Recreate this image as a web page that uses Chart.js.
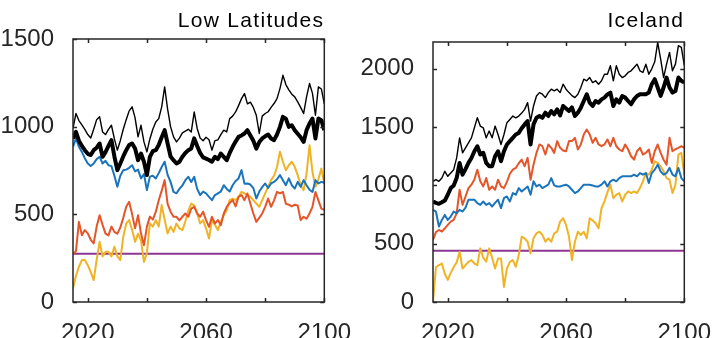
<!DOCTYPE html>
<html>
<head>
<meta charset="utf-8">
<script src="https://cdn.jsdelivr.net/npm/chart.js@4.4.0/dist/chart.umd.min.js"></script>
<style>
  html, body { margin: 0; padding: 0; background: #fff; }
  #wrap { position: relative; width: 720px; height: 338px; }
  canvas { position: absolute; top: 0; }
</style>
</head>
<body>
<div id="wrap">
  <canvas id="low" width="360" height="338" style="left:0"></canvas>
  <canvas id="ice" width="360" height="338" style="left:360px"></canvas>
</div>
<script>
// Years 2015..2100, one value per year
const years = Array.from({ length: 86 }, (_, i) => 2015 + i);
const xTicks = [2020, 2040, 2060, 2080, 2100];
const xLabels = [2020, 2060, 2100];

// Low Latitudes
const lowTicks = [0, 500, 1000, 1500];
const lowThreshold = 275;
const lowThick = [
  933, 970, 920, 890, 866, 845, 838, 866, 880, 904,
  828, 855, 890, 923, 830, 752, 790, 830, 866, 895,
  904, 875, 809, 847, 800, 724, 828, 860, 866, 895,
  940, 980, 904, 830, 809, 790, 800, 828, 850, 866,
  876, 933, 890, 850, 825, 818, 810, 800, 828, 815,
  847, 828, 809, 850, 885, 915, 942, 950, 961, 980,
  950, 920, 875, 912, 933, 945, 955, 933, 923, 955,
  999, 1056, 1046, 999, 1008, 980, 960, 940, 913, 980,
  1018, 1046, 933, 1046, 1037, 980
];
const lowThin = [
  990, 1075, 1035, 1010, 985, 955, 935, 985, 1040, 1056,
  970, 955, 985, 1008, 930, 866, 920, 985, 1040, 1090,
  1113, 1050, 942, 1008, 913, 856, 930, 985, 1027, 1046,
  1113, 1227, 1100, 1000, 942, 913, 935, 965, 975, 985,
  970, 1084, 990, 935, 920, 940, 925, 866, 920, 925,
  955, 980, 970, 1046, 1060, 1084, 1120, 1160, 1189, 1130,
  1140, 1110, 1065, 961, 1060, 1075, 1085, 1110, 1132, 1160,
  1217, 1293, 1240, 1210, 1185, 1170, 1141, 1110, 1075, 1170,
  1246, 1190, 1065, 1227, 1215, 1130
];
const lowBlue = [
  885, 933, 885, 856, 820, 790, 775, 790, 815, 828,
  790, 805, 780, 775, 720, 657, 720, 752, 755, 765,
  780, 745, 755, 705, 730, 638, 715, 720, 705, 735,
  770, 800, 725, 685, 628, 620, 645, 665, 695, 714,
  685, 714, 645, 610, 630, 620, 600, 581, 610, 620,
  630, 666, 645, 630, 666, 690, 705, 752, 675, 676,
  670, 650, 590, 630, 655, 676, 650, 676, 685, 700,
  724, 695, 666, 705, 666, 647, 685, 657, 695, 666,
  640, 628, 695, 676, 685, 680
];
const lowOrange = [
  270, 290, 457, 381, 410, 391, 355, 334, 430, 495,
  440, 390, 380, 430, 400, 390, 425, 480, 543, 571,
  500, 420, 495, 390, 324, 430, 487, 470, 514, 580,
  635, 695, 560, 515, 486, 486, 465, 486, 505, 486,
  533, 543, 505, 486, 515, 467, 429, 486, 448, 467,
  438, 505, 543, 565, 581, 545, 600, 610, 581, 619,
  560, 505, 457, 480, 505, 543, 590, 543, 580, 628,
  620, 628, 560, 555, 545, 555, 550, 467, 486, 475,
  505, 543, 628, 580, 533, 525
];
const lowYellow = [
  77, 150, 201, 239, 239, 210, 170, 125, 240, 343,
  260, 286, 286, 260, 315, 260, 239, 372, 448, 467,
  410, 343, 390, 350, 229, 280, 448, 430, 467, 430,
  553, 470, 391, 430, 400, 448, 420, 410, 460, 520,
  562, 550, 505, 448, 467, 420, 362, 467, 440, 410,
  457, 495, 524, 581, 590, 581, 600, 628, 619, 610,
  600, 581, 562, 543, 581, 619, 657, 695, 720, 770,
  857, 800, 752, 780, 800, 771, 724, 666, 638, 733,
  894, 740, 657, 700, 761, 676
];

// Iceland
const iceTicks = [0, 500, 1000, 1500, 2000];
const iceThreshold = 440;
const iceThick = [
  862, 850, 842, 855, 870, 920, 977, 1000, 1063, 1193,
  1092, 1140, 1193, 1235, 1293, 1336, 1265, 1280, 1193, 1164,
  1164, 1250, 1293, 1207, 1293, 1351, 1380, 1408, 1437, 1450,
  1490, 1523, 1552, 1351, 1523, 1580, 1595, 1580, 1624, 1595,
  1638, 1610, 1652, 1600, 1681, 1660, 1638, 1670, 1595, 1624,
  1667, 1724, 1782, 1710, 1681, 1724, 1710, 1738, 1753, 1780,
  1796, 1681, 1738, 1710, 1767, 1753, 1724, 1696, 1738, 1767,
  1782, 1782, 1782, 1796, 1868, 1911, 1840, 1768, 1840, 1925,
  1840, 1796, 1810, 1925, 1897, 1882
];
const iceThin = [
  1035, 1050, 1035, 1064, 1121, 1078, 1107, 1135, 1236, 1408,
  1279, 1322, 1365, 1408, 1494, 1581, 1509, 1494, 1408, 1466,
  1408, 1509, 1437, 1351, 1437, 1538, 1566, 1595, 1580, 1595,
  1620, 1652, 1710, 1552, 1681, 1767, 1796, 1782, 1753, 1796,
  1825, 1811, 1825, 1796, 1868, 1825, 1796, 1770, 1753, 1782,
  1840, 1911, 1897, 1925, 1882, 1897, 1868, 1897, 1954, 1954,
  2026, 1897, 2026, 1954, 1925, 1940, 1969, 1983, 2012, 2040,
  1983, 1969, 2040, 1954, 2000, 2060, 2227, 2083, 1925, 2040,
  2141, 1983, 2040, 2198, 2184, 2030
];
const iceBlue = [
  790, 776, 647, 704, 747, 704, 733, 776, 762, 790,
  776, 810, 877, 877, 877, 848, 833, 862, 833, 848,
  819, 850, 877, 805, 891, 905, 862, 934, 920, 977,
  948, 970, 991, 920, 1035, 991, 1006, 977, 991, 1006,
  1063, 1000, 991, 991, 1000, 1006, 991, 963, 934, 948,
  977, 1006, 1006, 1006, 1000, 991, 991, 1006, 1035, 991,
  1035, 1049, 1035, 1063, 1078, 1078, 1078, 1078, 1092, 1078,
  1106, 1092, 1106, 1020, 1106, 1135, 1178, 1120, 1092, 1106,
  1150, 1092, 1078, 1150, 1063, 1035
];
const iceOrange = [
  532, 600, 618, 604, 632, 661, 690, 704, 760, 963,
  833, 905, 977, 1006, 1050, 1135, 1035, 991, 1063, 963,
  991, 963, 1049, 991, 977, 1030, 1100, 1135, 1150, 1190,
  1221, 1164, 1236, 1049, 1178, 1279, 1351, 1336, 1265, 1351,
  1322, 1279, 1380, 1322, 1300, 1293, 1380, 1380, 1408, 1308,
  1351, 1437, 1480, 1437, 1365, 1408, 1351, 1336, 1351, 1394,
  1336, 1408, 1336, 1308, 1293, 1351, 1308, 1250, 1221, 1293,
  1322, 1265, 1279, 1308, 1193, 1293, 1351, 1279, 1220, 1178,
  1408, 1293, 1310, 1322, 1336, 1322
];
const iceYellow = [
  0, 300, 316, 330, 240, 190, 250, 300, 340, 431,
  287, 316, 345, 359, 330, 316, 460, 380, 345, 460,
  380, 287, 373, 373, 129, 287, 345, 359, 302, 400,
  560, 546, 517, 417, 546, 589, 603, 575, 517, 546,
  517, 589, 603, 690, 718, 661, 560, 359, 517, 603,
  575, 603, 546, 718, 700, 675, 632, 805, 862, 940,
  1006, 891, 920, 934, 862, 920, 948, 934, 948, 934,
  977, 1035, 1106, 1092, 1135, 1207, 1193, 1164, 1121, 1063,
  1049, 934, 1006, 1265, 1279, 1092
];

const BLUE = '#1a74bc';
const ORANGE = '#e4562a';
const YELLOW = '#f0b325';
const PURPLE = '#8c3593';
const AXIS = '#262626';
const FONT = "'Liberation Sans', Arial, sans-serif";

function toPoints(vals) {
  return vals.map((v, i) => ({ x: years[i], y: v }));
}

// box with inward ticks on all four sides, plus the right-aligned title
const frame = {
  id: 'frame',
  afterDatasetsDraw(chart, args, opts) {
    const { ctx, chartArea: a, scales: { x, y } } = chart;
    ctx.save();
    ctx.strokeStyle = AXIS;
    ctx.lineWidth = 1.5;
    ctx.strokeRect(a.left, a.top, a.right - a.left, a.bottom - a.top);
    ctx.beginPath();
    x.ticks.forEach(t => {
      const px = Math.round(x.getPixelForValue(t.value)) + 0.5;
      ctx.moveTo(px, a.bottom); ctx.lineTo(px, a.bottom - 4);
      ctx.moveTo(px, a.top); ctx.lineTo(px, a.top + 4);
    });
    y.ticks.forEach(t => {
      const py = Math.round(y.getPixelForValue(t.value)) + 0.5;
      ctx.moveTo(a.left, py); ctx.lineTo(a.left + 4, py);
      ctx.moveTo(a.right, py); ctx.lineTo(a.right - 4, py);
    });
    ctx.stroke();

    ctx.fillStyle = '#000';
    ctx.font = `21px ${FONT}`;
    ctx.textAlign = 'right';
    ctx.textBaseline = 'alphabetic';
    ctx.letterSpacing = '1.3px';
    ctx.fillText(opts.title, a.right, 27);
    ctx.restore();
  }
};

function makeChart(id, title, yMax, yTicks, s, threshold, topPad) {
  const tickFont = { family: FONT, size: 24 };
  return new Chart(document.getElementById(id), {
    type: 'line',
    data: {
      datasets: [
        { data: toPoints(s.thick), borderColor: '#000', borderWidth: 4 },
        { data: toPoints(s.thin), borderColor: '#000', borderWidth: 1.4 },
        { data: toPoints(s.blue), borderColor: BLUE, borderWidth: 2 },
        { data: toPoints(s.orange), borderColor: ORANGE, borderWidth: 2 },
        { data: toPoints(s.yellow), borderColor: YELLOW, borderWidth: 2 },
        { data: [{ x: years[0], y: threshold }, { x: years[years.length - 1], y: threshold }],
          borderColor: PURPLE, borderWidth: 2 }
      ]
    },
    options: {
      responsive: false,
      animation: false,
      devicePixelRatio: 1,
      layout: { padding: { top: topPad, right: 29, left: 0, bottom: 0 } },
      elements: {
        point: { radius: 0 },
        line: { tension: 0, borderJoinStyle: 'round', fill: false }
      },
      plugins: {
        legend: { display: false },
        tooltip: { enabled: false },
        title: { display: false },
        frame: { title }
      },
      scales: {
        x: {
          type: 'linear',
          min: 2015,
          max: 2100,
          grid: { display: false },
          border: { display: false },
          afterBuildTicks: sc => { sc.ticks = xTicks.map(v => ({ value: v })); },
          ticks: {
            callback: v => xLabels.includes(v) ? String(v) : '',
            font: tickFont,
            color: AXIS,
            padding: 9,
            maxRotation: 0,
            autoSkip: false
          },
          afterFit: sc => { sc.height = 36; }
        },
        y: {
          min: 0,
          max: yMax,
          grid: { display: false },
          border: { display: false },
          afterBuildTicks: sc => { sc.ticks = yTicks.map(v => ({ value: v })); },
          ticks: { callback: v => String(v), font: tickFont, color: AXIS, padding: 11 },
          afterFit: sc => { sc.width = 73; }
        }
      }
    },
    plugins: [frame]
  });
}

makeChart('low', 'Low Latitudes', 1500, lowTicks, {
  thick: lowThick, thin: lowThin, blue: lowBlue, orange: lowOrange, yellow: lowYellow
}, lowThreshold, 39);

makeChart('ice', 'Iceland', 2230, iceTicks, {
  thick: iceThick, thin: iceThin, blue: iceBlue, orange: iceOrange, yellow: iceYellow
}, iceThreshold, 42);
</script>
</body>
</html>
